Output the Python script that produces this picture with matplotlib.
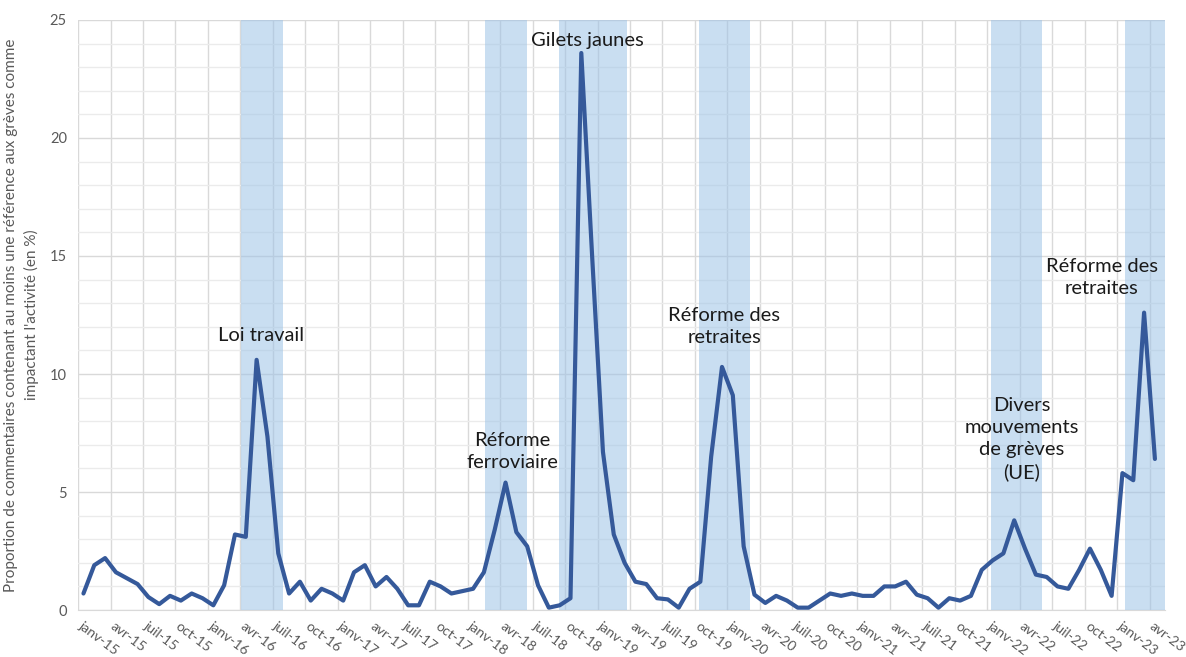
import numpy as np
import matplotlib
matplotlib.use("Agg")
import matplotlib.pyplot as plt
from matplotlib.ticker import MultipleLocator

plt.rcParams['font.family'] = ['Lato', 'DejaVu Sans']

# monthly share of comments (janv-15 .. avr-23)
mois = ["janv", "févr", "mars", "avr", "mai", "juin",
        "juil", "août", "sept", "oct", "nov", "déc"]
labels = [f"{mois[i % 12]}-{15 + i // 12}" for i in range(100)]
valeurs = [
    0.7, 1.9, 2.2, 1.6, 1.35, 1.1, 0.55, 0.25, 0.6, 0.4, 0.7, 0.5,
    0.2, 1.05, 3.2, 3.1, 10.6, 7.35, 2.4, 0.7, 1.2, 0.4, 0.9, 0.7,
    0.4, 1.6, 1.9, 1.0, 1.4, 0.9, 0.2, 0.2, 1.2, 1.0, 0.7, 0.8,
    0.9, 1.6, 3.4, 5.4, 3.3, 2.7, 1.05, 0.1, 0.2, 0.5, 23.6, 15.0,
    6.7, 3.2, 2.0, 1.2, 1.1, 0.5, 0.45, 0.1, 0.9, 1.2, 6.5, 10.3,
    9.1, 2.7, 0.65, 0.3, 0.6, 0.4, 0.1, 0.1, 0.4, 0.7, 0.6, 0.7,
    0.6, 0.6, 1.0, 1.0, 1.2, 0.65, 0.5, 0.1, 0.5, 0.4, 0.6, 1.7,
    2.1, 2.4, 3.8, 2.6, 1.5, 1.4, 1.0, 0.9, 1.7, 2.6, 1.7, 0.6,
    5.8, 5.5, 12.6, 6.4,
]

# strike periods (in month index) and their labels
periode_debut = [14.55, 37.1, 43.95, 56.85, 83.9, 96.2]
periode_fin = [18.45, 40.95, 50.25, 61.55, 88.6, 99.9]
evenements = ["Loi travail", "Réforme\nferroviaire", "Gilets jaunes",
              "Réforme des\nretraites", "Divers\nmouvements\nde grèves\n(UE)",
              "Réforme des\nretraites"]
evt_x = [16.4, 39.6, 46.6, 59.2, 86.7, 94.1]
evt_y = [11.65, 6.7, 24.15, 12.0, 7.25, 14.1]

x = np.arange(len(valeurs))

fig = plt.figure(figsize=(11.86, 6.57), dpi=100)
ax = fig.add_axes([0.0658, 0.0715, 0.9162, 0.8981])

for d, f in zip(periode_debut, periode_fin):
    ax.axvspan(d, f, color='#9dc3e6', alpha=0.55, lw=0, zorder=2)

ax.plot(x, valeurs, color='#35599a', lw=3, zorder=4,
        solid_joinstyle='round', solid_capstyle='round')

for t, tx, ty in zip(evenements, evt_x, evt_y):
    ax.text(tx, ty, t, ha='center', va='center', fontsize=14.5,
            color='#1a1a1a', linespacing=1.35, zorder=5)

ax.set_xlim(-0.5, 99.9)
ax.set_ylim(0, 25)

# grid
ax.yaxis.set_major_locator(MultipleLocator(5))
ax.yaxis.set_minor_locator(MultipleLocator(1))
ax.grid(axis='y', which='major', color='#d9d9d9', lw=1, zorder=1)
ax.grid(axis='y', which='minor', color='#ebebeb', lw=1, zorder=1)
for k in range(34):
    ax.axvline(-0.5 + 3 * k, color='#d9d9d9', lw=1, zorder=1)

ticks = x[::3]
ax.set_xticks(ticks)
ax.set_xticklabels([labels[i] for i in ticks], rotation=-37, ha='left',
                   va='top', rotation_mode='anchor', fontsize=10,
                   color='#595959')
ax.tick_params(axis='x', length=0, pad=7)
ax.tick_params(axis='y', which='both', length=0, pad=8, labelsize=10.5,
               labelcolor='#595959')

for s in ['top', 'right', 'left']:
    ax.spines[s].set_visible(False)
ax.spines['bottom'].set_color('#d9d9d9')
ax.spines['bottom'].set_zorder(1)

ax.set_ylabel("Proportion de commentaires contenant au moins une référence aux grèves comme\n"
              "impactant l'activité (en %)", fontsize=11, color='#595959',
              linespacing=1.45, labelpad=8)

fig.savefig("out.png", dpi=100)
